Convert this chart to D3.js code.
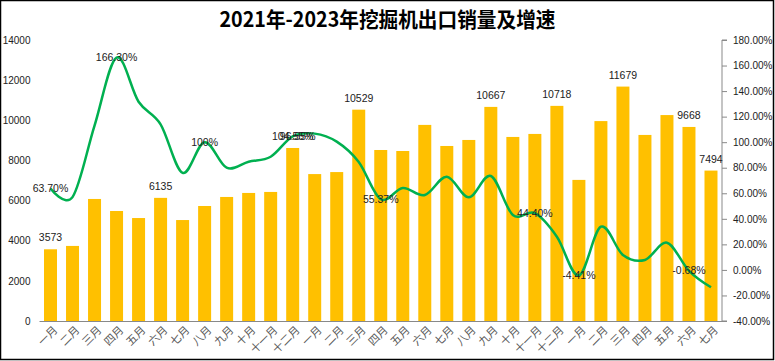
<!DOCTYPE html>
<html>
<head>
<meta charset="utf-8">
<script src="https://cdn.jsdelivr.net/npm/d3@7"></script>
<style>
  body { margin: 0; background: #fff; }
  text { font-family: "Liberation Sans", Arial, sans-serif; }
</style>
</head>
<body>
<div id="chart"></div>
<script>
const months = [
  "一月", "二月", "三月", "四月", "五月", "六月", "七月", "八月", "九月", "十月", "十一月", "十二月",
  "一月", "二月", "三月", "四月", "五月", "六月", "七月", "八月", "九月", "十月", "十一月", "十二月",
  "一月", "二月", "三月", "四月", "五月", "六月", "七月"
];

// export volume (units)
const sales = [
  3573, 3740, 6080, 5480, 5130, 6135, 5030, 5730, 6180, 6380, 6430, 8620,
  7320, 7420, 10529, 8520, 8470, 9770, 8720, 9020, 10667, 9170, 9320, 10718,
  7030, 9960, 11679, 9270, 10260, 9668, 7494
];

// growth rate (%)
const growth = [
  63.7, 57, 113, 166.3, 131.7, 114, 76, 100, 80, 84.7, 88.6, 104.55,
  106.7, 100.4, 84.5, 55.37, 64.1, 58.6, 73, 56.8, 73.5, 43, 44.4, 26,
  -4.41, 33.8, 11.7, 7.8, 21.3, -0.68, -13.6
];

// which points carry a value label
const barLabelIdx = [0, 5, 14, 20, 23, 26, 29, 30];
const lineLabels = [
  { i: 0, text: "63.70%" },
  { i: 3, text: "166.30%" },
  { i: 7, text: "100%" },
  { i: 11, text: "104.55%" },
  { i: 11, text: "96.55%", dx: 5 },
  { i: 15, text: "55.37%" },
  { i: 22, text: "44.40%" },
  { i: 24, text: "-4.41%" },
  { i: 29, text: "-0.68%" }
];

const leftTicks = [0, 2000, 4000, 6000, 8000, 10000, 12000, 14000];
const rightTicks = [-40, -20, 0, 20, 40, 60, 80, 100, 120, 140, 160, 180];

const W = 775, H = 361;
const plot = { left: 39.5, right: 722, top: 40, bottom: 321 };

const svg = d3.select("#chart").append("svg")
  .attr("width", W)
  .attr("height", H);

svg.append("rect")
  .attr("x", 0.5).attr("y", 0.5)
  .attr("width", W - 2).attr("height", H - 2)
  .attr("fill", "#fff")
  .attr("stroke", "#000")
  .attr("stroke-width", 1.5);

// title
svg.append("text")
  .attr("x", W / 2)
  .attr("y", 27)
  .attr("text-anchor", "middle")
  .attr("textLength", 336)
  .attr("lengthAdjust", "spacingAndGlyphs")
  .style("font-family", "'Noto Sans CJK SC', sans-serif")
  .style("font-weight", "bold")
  .style("font-size", "21px")
  .attr("fill", "#000")
  .text("2021年-2023年挖掘机出口销量及增速");

// Scales
const x = d3.scaleBand()
  .domain(d3.range(months.length))
  .range([plot.left, plot.right])
  .paddingInner(0.41)
  .paddingOuter(0.205);

const y = d3.scaleLinear()
  .domain([0, 14000])
  .range([plot.bottom, plot.top]);

const y2 = d3.scaleLinear()
  .domain([-40, 180])
  .range([plot.bottom, plot.top]);

const cx = (i) => x(i) + x.bandwidth() / 2;

// Left axis (no line)
const leftAxis = svg.append("g")
  .attr("transform", `translate(${plot.left},0)`)
  .call(d3.axisLeft(y).tickValues(leftTicks).tickSize(0).tickPadding(9)
    .tickFormat(d3.format("d")));
leftAxis.select(".domain").remove();
leftAxis.selectAll("text")
  .style("font-size", "10px")
  .style("font-family", "'Liberation Sans', Arial, sans-serif")
  .attr("fill", "#222");

// Right axis
const rightAxis = svg.append("g")
  .attr("transform", `translate(${plot.right},0)`)
  .call(d3.axisRight(y2).tickValues(rightTicks).tickSize(5).tickPadding(6)
    .tickFormat((d) => d.toFixed(2) + "%"));
rightAxis.select(".domain").attr("stroke", "#898989").attr("d", `M5,${plot.top}H0V${plot.bottom}H5`);
rightAxis.selectAll(".tick line").attr("stroke", "#898989");
rightAxis.selectAll("text")
  .style("font-size", "10px")
  .style("font-family", "'Liberation Sans', Arial, sans-serif")
  .attr("fill", "#222");

// Bars
svg.selectAll(".bar")
  .data(sales)
  .enter()
  .append("rect")
  .attr("class", "bar")
  .attr("x", (d, i) => x(i))
  .attr("y", (d) => y(d))
  .attr("width", x.bandwidth())
  .attr("height", (d) => y(0) - y(d))
  .attr("fill", "#FFC000");

// X axis line
svg.append("line")
  .attr("x1", plot.left).attr("x2", plot.right)
  .attr("y1", plot.bottom + 0.5).attr("y2", plot.bottom + 0.5)
  .attr("stroke", "#898989")
  .attr("stroke-width", 1);

// X labels, rotated
svg.selectAll(".xlab")
  .data(months)
  .enter()
  .append("text")
  .attr("class", "xlab")
  .attr("transform", (d, i) => `translate(${cx(i) + 5},${plot.bottom + 7}) rotate(-45)`)
  .attr("text-anchor", "end")
  .attr("dy", "0.35em")
  .style("font-size", "11px")
  .style("font-family", "'Noto Sans CJK SC', sans-serif")
  .attr("fill", "#595959")
  .text((d) => d);

// Growth line
const line = d3.line()
  .x((d, i) => cx(i))
  .y((d) => y2(d))
  .curve(d3.curveCardinal.tension(0));

svg.append("path")
  .datum(growth)
  .attr("d", line)
  .attr("fill", "none")
  .attr("stroke", "#00B050")
  .attr("stroke-width", 2.5);

// Bar labels
svg.selectAll(".barlab")
  .data(barLabelIdx)
  .enter()
  .append("text")
  .attr("class", "barlab")
  .attr("x", (i) => cx(i))
  .attr("y", (i) => y(sales[i]) - 8)
  .attr("text-anchor", "middle")
  .style("font-size", "10.5px")
  .attr("fill", "#222")
  .text((i) => sales[i]);

// Line labels
svg.selectAll(".linelab")
  .data(lineLabels)
  .enter()
  .append("text")
  .attr("class", "linelab")
  .attr("x", (d) => cx(d.i) + (d.dx || 0))
  .attr("y", (d) => y2(growth[d.i]))
  .attr("dy", "0.35em")
  .attr("text-anchor", "middle")
  .style("font-size", "10.5px")
  .attr("fill", "#222")
  .text((d) => d.text);
</script>
</body>
</html>
